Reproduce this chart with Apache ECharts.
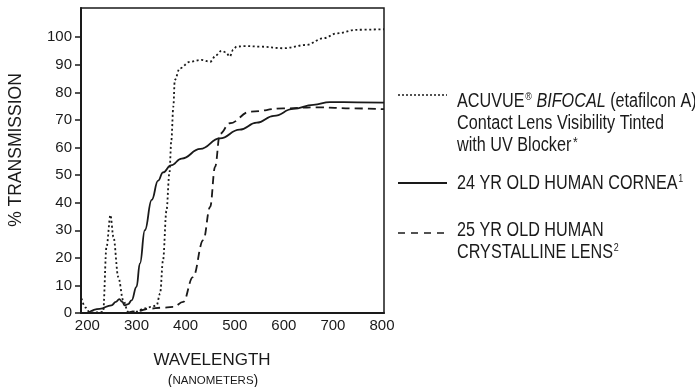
<!DOCTYPE html>
<html>
<head>
<meta charset="utf-8">
<script src="https://cdn.jsdelivr.net/npm/echarts@6/dist/echarts.min.js"></script>
<style>
  html, body { margin: 0; padding: 0; background: #fff; }
  #chart { width: 695px; height: 387px; }
</style>
</head>
<body>
<div id="chart"></div>
<script>
// axis ticks
const xTicks = [200, 300, 400, 500, 600, 700, 800];
const yTicks = [0, 10, 20, 30, 40, 50, 60, 70, 80, 90, 100];

// ACUVUE BIFOCAL tinted lens (dotted)
const tintNm  = [188, 196, 205, 218, 232, 239, 247, 253, 263, 273, 283, 300, 314, 330, 341, 348, 354, 361, 367, 371, 375, 378, 388, 409, 432, 450, 462, 473, 482, 490, 497, 504, 520, 551, 599, 646, 680, 708, 748, 804];
const tintPct = [5.3, 2, 0.2, 0.2, 0.4, 24, 35.5, 27.6, 13, 4.6, 0.4, 0.5, 1.6, 2.2, 2.8, 7, 19, 37, 50.6, 62.7, 74.8, 84.5, 88.7, 91.1, 91.8, 91.1, 93.5, 95.1, 94.5, 93, 95.5, 96.6, 96.8, 96.6, 96, 97.2, 99.6, 101.4, 102.7, 102.9];

// 24 yr old human cornea (solid)
const corneaNm  = [200, 225, 249, 258, 265, 271, 276, 283, 290, 300, 307, 317, 331, 344, 354, 370, 392, 430, 470, 510, 545, 580, 619, 660, 694, 750, 804];
const corneaPct = [0, 1.5, 2.8, 4, 5, 4, 2.8, 3.2, 4.6, 9.5, 18, 30, 41, 48, 51, 53.5, 56, 59.5, 63.3, 66.5, 69, 71.5, 74, 75.5, 76.5, 76.4, 76.3];

// 25 yr old human crystalline lens (dashed)
const lensNm  = [280, 300, 327, 350, 375, 395, 415, 436, 450, 460, 470, 490, 531, 599, 667, 740, 804];
const lensPct = [0, 0.6, 1.6, 1.9, 2.2, 4, 13, 26.4, 38.5, 53, 65, 68.8, 73, 74.2, 74.6, 74.2, 73.9];

const zip = (xs, ys) => xs.map((x, i) => [x, ys[i]]);

const ink = '#1a1a1a';
const font = "'Liberation Sans', Arial, Helvetica, sans-serif";
const squeeze = 0.81; // fake a condensed face for the legend

const chart = echarts.init(document.getElementById('chart'));

const legendRich = {
  t: { fontFamily: font, fontSize: 20, lineHeight: 22, fill: ink },
  i: { fontFamily: font, fontSize: 20, lineHeight: 22, fontStyle: 'italic', fill: ink },
  s: { fontFamily: font, fontSize: 11, lineHeight: 22, verticalAlign: 'top', padding: [1, 0, 0, 1], fill: ink },
  a: { fontFamily: font, fontSize: 15, lineHeight: 22, verticalAlign: 'top', padding: [1, 0, 0, 2], fill: ink }
};

const option = {
  animation: false,
  backgroundColor: '#fff',
  grid: {
    left: 81, right: 311, top: 8, bottom: 74,
    show: true, borderColor: ink, borderWidth: 1.5
  },
  xAxis: {
    type: 'value',
    min: 187, max: 804,
    axisLine: { show: true, lineStyle: { color: ink, width: 2 } },
    axisTick: { show: false },
    splitLine: { show: false },
    axisLabel: {
      customValues: xTicks,
      margin: 5,
      color: ink, fontFamily: font, fontSize: 15
    }
  },
  yAxis: {
    type: 'value',
    min: 0, max: 110.6,
    axisLine: { show: true, lineStyle: { color: ink, width: 2 } },
    axisTick: { show: true, customValues: yTicks, length: 6, lineStyle: { color: ink, width: 1.5 } },
    splitLine: { show: false },
    axisLabel: {
      customValues: yTicks,
      margin: 9,
      color: ink, fontFamily: font, fontSize: 15
    }
  },
  series: [
    {
      name: 'tint', type: 'line', data: zip(tintNm, tintPct),
      showSymbol: false, smooth: 0.35, smoothMonotone: 'x',
      lineStyle: { color: ink, width: 1.8, type: [2, 2.6] }
    },
    {
      name: 'cornea', type: 'line', data: zip(corneaNm, corneaPct),
      showSymbol: false, smooth: 0.45, smoothMonotone: 'x',
      lineStyle: { color: ink, width: 1.8, type: 'solid' }
    },
    {
      name: 'lens', type: 'line', data: zip(lensNm, lensPct),
      showSymbol: false, smooth: 0.4, smoothMonotone: 'x',
      lineStyle: { color: ink, width: 1.8, type: [8, 5] }
    }
  ],
  graphic: [
    // axis titles
    {
      type: 'text', x: 16, y: 150, rotation: Math.PI / 2,
      style: { text: '% TRANSMISSION', fontFamily: font, fontSize: 17.5, fill: ink, align: 'center', verticalAlign: 'middle' }
    },
    {
      type: 'text', x: 212, y: 360,
      style: { text: 'WAVELENGTH', fontFamily: font, fontSize: 17, fill: ink, align: 'center', verticalAlign: 'middle' }
    },
    {
      type: 'text', x: 213, y: 381,
      style: {
        text: '{p|(}{c|NANOMETERS}{p|)}',
        align: 'center', verticalAlign: 'middle',
        rich: {
          p: { fontFamily: font, fontSize: 14, fill: ink },
          c: { fontFamily: font, fontSize: 11.5, fill: ink }
        }
      }
    },
    // legend samples
    { type: 'line', shape: { x1: 398, y1: 95, x2: 447, y2: 95 }, style: { stroke: ink, lineWidth: 1.5, lineDash: [2, 2] } },
    { type: 'line', shape: { x1: 398, y1: 183, x2: 447, y2: 183 }, style: { stroke: ink, lineWidth: 1.8 } },
    { type: 'line', shape: { x1: 398, y1: 233, x2: 447, y2: 233 }, style: { stroke: ink, lineWidth: 1.5, lineDash: [7, 6] } },
    // legend texts
    {
      type: 'text', x: 457, y: 90, scaleX: squeeze,
      style: {
        text: '{t|ACUVUE}{s|®}{t| }{i|BIFOCAL}{t| (etafilcon A)}\n{t|Contact Lens Visibility Tinted}\n{t|with UV Blocker}{a|*}',
        verticalAlign: 'top', rich: legendRich
      }
    },
    {
      type: 'text', x: 457, y: 172.5, scaleX: squeeze,
      style: { text: '{t|24 YR OLD HUMAN CORNEA}{s|1}', verticalAlign: 'top', rich: legendRich }
    },
    {
      type: 'text', x: 457, y: 219, scaleX: squeeze,
      style: { text: '{t|25 YR OLD HUMAN}\n{t|CRYSTALLINE LENS}{s|2}', verticalAlign: 'top', rich: legendRich }
    }
  ]
};

chart.setOption(option);
</script>
</body>
</html>
